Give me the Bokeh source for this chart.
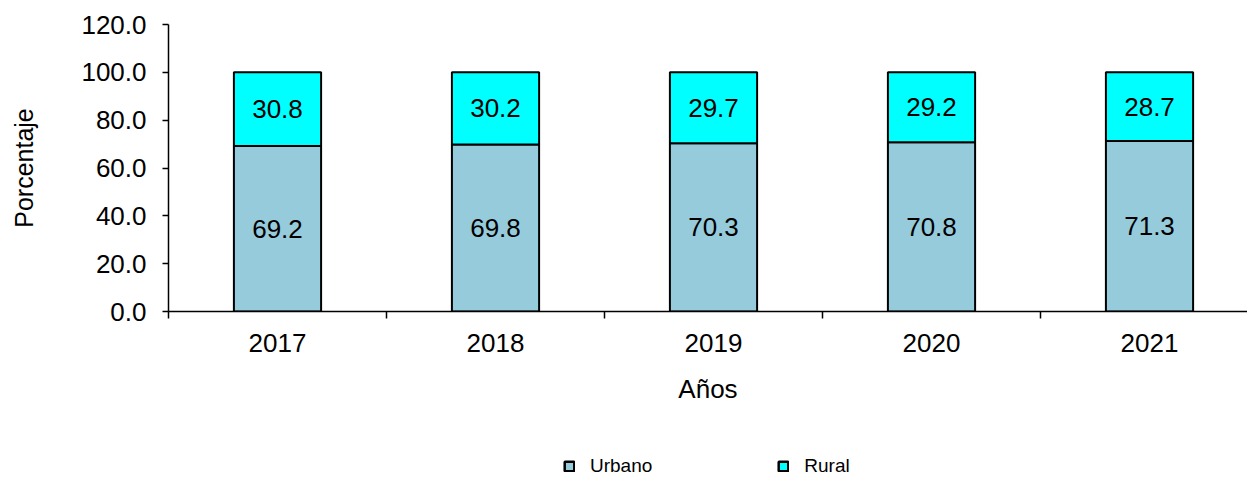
from bokeh.plotting import figure
from bokeh.layouts import column
from bokeh.models import (ColumnDataSource, Range1d, LinearAxis, FixedTicker,
                          NumeralTickFormatter, Legend, LegendItem)
from bokeh.core.properties import value
from bokeh.embed import file_html
from bokeh.resources import INLINE

years = ["2017", "2018", "2019", "2020", "2021"]
urbano = [69.2, 69.8, 70.3, 70.8, 71.3]
rural = [30.8, 30.2, 29.7, 29.2, 28.7]
y_ticks = [0, 20, 40, 60, 80, 100, 120]

FONT = "Liberation Sans"
URB_COLOR = "#96CBDC"
RUR_COLOR = "#00FFFF"

# x in half-category units: centers at 1,3,5..., boundaries at 0,2,4...
xc = [2 * i + 1 for i in range(len(years))]
src = ColumnDataSource(dict(
    x=xc,
    urb=urbano,
    rur=rural,
    top_rur=[u + r for u, r in zip(urbano, rural)],
    y_urb=[u / 2 for u in urbano],
    y_rur=[u + r / 2 for u, r in zip(urbano, rural)],
    lab_urb=[f"{v:.1f}" for v in urbano],
    lab_rur=[f"{v:.1f}" for v in rural],
))

p = figure(frame_width=1079, frame_height=287, output_backend="svg",
           toolbar_location=None,
           x_range=Range1d(0, 9.899), y_range=Range1d(0, 120),
           x_axis_type=None, y_axis_type=None,
           min_border_left=168, min_border_right=0, min_border_top=24,
           min_border_bottom=126)
p.outline_line_color = None
p.background_fill_color = "white"
p.border_fill_color = "white"

# y axis
yax = LinearAxis(ticker=FixedTicker(ticks=y_ticks),
                 formatter=NumeralTickFormatter(format="0.0"))
yax.axis_line_color = "black"
yax.axis_line_width = 1.5
yax.major_tick_line_color = "black"
yax.major_tick_line_width = 1.5
yax.major_tick_out = 6
yax.major_tick_in = 0
yax.minor_tick_line_color = None
yax.major_label_text_font = FONT
yax.major_label_text_font_size = "26px"
yax.major_label_text_color = "black"
yax.major_label_standoff = 16
yax.axis_label = "Porcentaje"
yax.axis_label_text_font = FONT
yax.axis_label_text_font_size = "25px"
yax.axis_label_text_font_style = "normal"
yax.axis_label_text_color = "black"
yax.axis_label_standoff = 40
p.add_layout(yax, "left")

# x axis A: boundary ticks
xa = LinearAxis(ticker=FixedTicker(ticks=[0, 2, 4, 6, 8]))
xa.axis_line_color = "black"
xa.axis_line_width = 1.5
xa.major_tick_line_color = "black"
xa.major_tick_line_width = 1.5
xa.major_tick_out = 7
xa.major_tick_in = 0
xa.minor_tick_line_color = None
xa.major_label_text_font_size = "1px"
xa.major_label_text_alpha = 0
xa.major_label_standoff = 0
p.add_layout(xa, "below")

# x axis B: year labels
xb = LinearAxis(ticker=FixedTicker(ticks=xc),
                major_label_overrides={x: y for x, y in zip(xc, years)})
xb.axis_line_color = None
xb.major_tick_line_color = None
xb.major_tick_out = 0
xb.major_tick_in = 0
xb.minor_tick_line_color = None
xb.major_label_text_font = FONT
xb.major_label_text_font_size = "26px"
xb.major_label_text_color = "black"
xb.major_label_standoff = 15
xb.axis_label = "Años"
xb.axis_label_text_font = FONT
xb.axis_label_text_font_size = "26px"
xb.axis_label_text_font_style = "normal"
xb.axis_label_text_color = "black"
xb.axis_label_standoff = 19
p.add_layout(xb, "below")

p.ygrid.ticker = FixedTicker(ticks=y_ticks)
p.ygrid.grid_line_color = "black"
p.ygrid.grid_line_width = 1.2
p.xgrid.visible = False

p.vbar(x="x", width=0.8, bottom=0, top="urb", source=src,
       fill_color=URB_COLOR, line_color="black", line_width=2)
p.vbar(x="x", width=0.8, bottom="urb", top="top_rur", source=src,
       fill_color=RUR_COLOR, line_color="black", line_width=2)

for ycol, tcol in (("y_urb", "lab_urb"), ("y_rur", "lab_rur")):
    p.text(x="x", y=ycol, text=tcol, source=src, text_align="center",
           text_baseline="middle", text_font=value(FONT),
           text_font_size="26px", text_color="black")

# legend strip (its frame is aligned with the main frame by the column)
lg = figure(width=1247, height=40, output_backend="svg", toolbar_location=None,
            x_range=Range1d(0, 1), y_range=Range1d(0, 1),
            x_axis_type=None, y_axis_type=None,
            min_border_left=0, min_border_right=0, min_border_top=0,
            min_border_bottom=0)
lg.outline_line_color = None
lg.xgrid.visible = False
lg.ygrid.visible = False
off = ColumnDataSource(dict(x=[float("nan")], top=[float("nan")]))
r1 = lg.vbar(x="x", top="top", width=0.1, source=off,
             fill_color=URB_COLOR, line_color="black", line_width=2.5)
r2 = lg.vbar(x="x", top="top", width=0.1, source=off,
             fill_color=RUR_COLOR, line_color="black", line_width=2.5)

legend = Legend(items=[LegendItem(label="Urbano", renderers=[r1]),
                       LegendItem(label="Rural", renderers=[r2])],
                orientation="horizontal", location=(395, 0))
legend.glyph_width = 12
legend.glyph_height = 12
legend.label_standoff = 15
legend.spacing = 125
legend.padding = 0
legend.margin = 0
legend.border_line_color = None
legend.background_fill_alpha = 0
legend.label_text_font = FONT
legend.label_text_font_size = "19px"
legend.label_height = 14
legend.label_text_color = "black"
lg.add_layout(legend, "center")

layout = column(p, lg, spacing=0)
open("out.html", "w").write(file_html(layout, INLINE))
